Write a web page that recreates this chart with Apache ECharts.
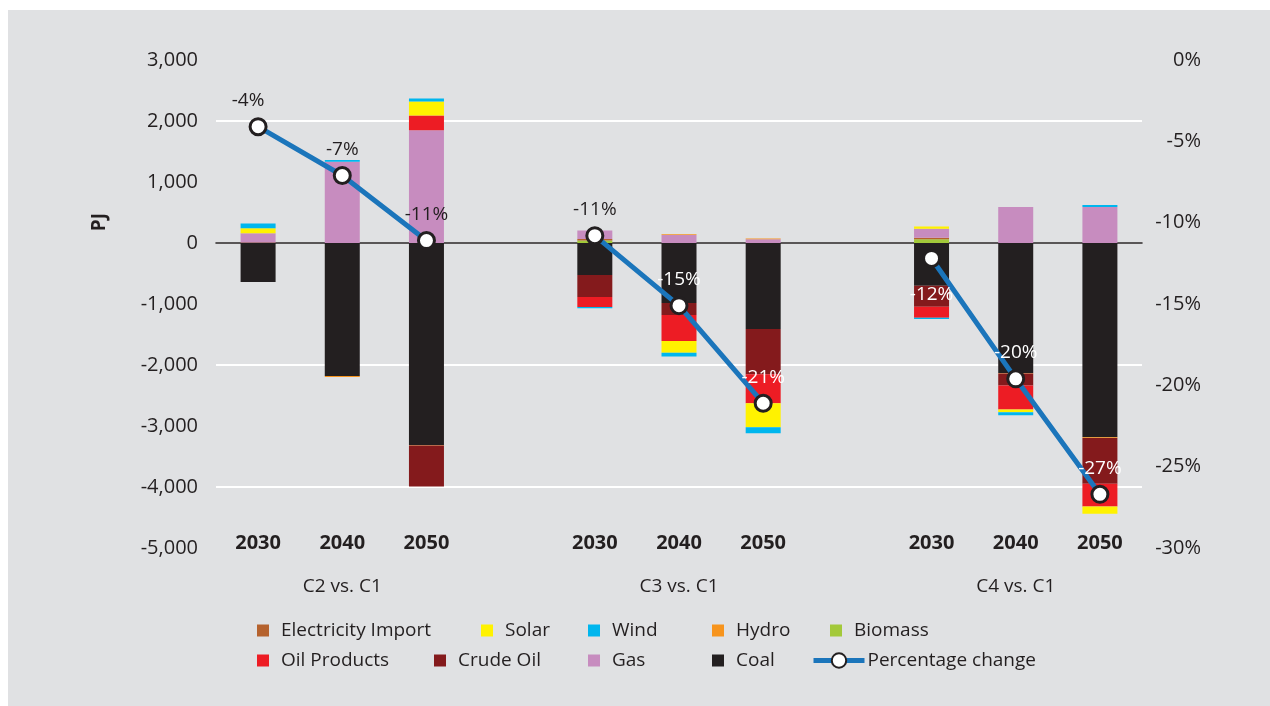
<!DOCTYPE html>
<html>
<head>
<meta charset="utf-8">
<title>Energy supply change vs C1</title>
<script src="https://cdn.jsdelivr.net/npm/echarts@6/dist/echarts.min.js"></script>
<style>
  html, body { margin: 0; padding: 0; background: #fff; }
  #chart { width: 1270px; height: 706px; }
</style>
</head>
<body>
<div id="chart"></div>
<script>
// categories (blank entries = gaps between scenario groups)
const categories = ['2030', '2040', '2050', '', '2030', '2040', '2050', '', '2030', '2040', '2050']
const groupLabels = ['', 'C2 vs. C1', '', '', '', 'C3 vs. C1', '', '', '', 'C4 vs. C1', '']

// PJ change per fuel
const electricityImport = [10, 0, 0, null, 25, 0, 0, null, 25, 0, 0]
const solar = [80, 0, 230, null, 0, -195, -395, null, 35, -45, -120]
const wind = [80, 30, 50, null, -20, -60, -100, null, -20, -50, 35]
const hydro = [0, -15, -10, null, 0, 15, 15, null, 0, -10, -10]
const biomass = [0, 0, 0, null, 40, 0, 0, null, 60, 0, 0]
const oilProducts = [0, 0, 240, null, -165, -425, -475, null, -180, -395, -375]
const crudeOil = [0, 0, -670, null, -360, -195, -740, null, -345, -195, -750]
const gas = [150, 1330, 1850, null, 140, 130, 60, null, 150, 590, 590]
const coal = [-640, -2180, -3310, null, -525, -985, -1410, null, -700, -2130, -3185]

// percentage change (right axis)
const pctChange = [-4.1, -7.1, -11.1, null, -10.8, -15.1, -21.1, null, -12.2, -19.6, -26.7]

const FONT = 'Open Sans'
const TEXT = '#231F20'

const chart = echarts.init(document.getElementById('chart'))

const fuels = [
  { name: 'Biomass', data: biomass, color: '#A3C93A' },
  { name: 'Electricity Import', data: electricityImport, color: '#B5622E' },
  { name: 'Coal', data: coal, color: '#231F20' },
  { name: 'Gas', data: gas, color: '#C78CBF' },
  { name: 'Hydro', data: hydro, color: '#F7941D' },
  { name: 'Crude Oil', data: crudeOil, color: '#841A1C' },
  { name: 'Oil Products', data: oilProducts, color: '#ED1C24' },
  { name: 'Solar', data: solar, color: '#FFF200' },
  { name: 'Wind', data: wind, color: '#00B6EE' }
]

const barSeries = fuels.map(f => ({
  name: f.name,
  type: 'bar',
  stack: 'pj',
  xAxisIndex: 0,
  yAxisIndex: 0,
  barWidth: 35,
  itemStyle: { color: f.color },
  data: f.data
}))

// label tweaks per point: first points sit on grey, the rest on dark bars
const lineData = pctChange.map((v, i) => {
  if (v === null) return null
  const dark = i <= 4
  const item = { value: v, label: { color: dark ? TEXT : '#fff' } }
  if (i === 0) item.label.offset = [-10, 0]
  if (i === 8) { item.label.position = 'bottom'; item.label.distance = 17 }
  return item
})

// legend layout (two rows, table-like)
const legendSpots = [
  ['Electricity Import', 257, 621], ['Solar', 481, 621], ['Wind', 588, 621], ['Hydro', 712, 621], ['Biomass', 830, 621],
  ['Oil Products', 257, 651], ['Crude Oil', 434, 651], ['Gas', 588, 651], ['Coal', 712, 651], ['Percentage change', 811, 651]
]

const legends = legendSpots.map(([name, x, y]) => {
  const isLine = name === 'Percentage change'
  const lg = {
    data: [name],
    left: x,
    top: y,
    padding: 0,
    icon: isLine ? undefined : 'rect',
    itemWidth: isLine ? 51 : 12,
    itemHeight: isLine ? 18 : 12,
    itemGap: 0,
    selectedMode: false,
    textStyle: { fontFamily: FONT, fontSize: 19, color: TEXT, padding: [0, 0, 0, isLine ? -2 : 7] }
  }
  if (isLine) lg.lineStyle = { width: 5, color: '#1B75BB' }
  return lg
})

const option = {
  animation: false,
  backgroundColor: '#fff',
  textStyle: { fontFamily: FONT },
  graphic: [
    {
      type: 'rect', z: -100, silent: true,
      shape: { x: 8, y: 10, width: 1262, height: 696 },
      style: { fill: '#E0E1E3' }
    },
    {
      type: 'text', left: 90, top: 213, rotation: Math.PI / 2,
      style: { text: 'PJ', fontFamily: FONT, fontSize: 19, fontWeight: 'bold', fill: TEXT }
    }
  ],
  legend: legends,
  grid: { left: 216, right: 128, top: 60, bottom: 158 },
  xAxis: [
    {
      type: 'category',
      data: categories,
      axisLine: { show: true, onZero: true, onZeroAxisIndex: 0, lineStyle: { color: '#231F20', width: 1.5 } },
      axisTick: { show: false },
      axisLabel: { show: false },
      splitLine: { show: false }
    },
    {
      type: 'category',
      data: categories,
      position: 'bottom',
      axisLine: { show: false, onZero: false },
      axisTick: { show: false },
      axisLabel: { margin: -15, fontFamily: FONT, fontSize: 20, fontWeight: 'bold', color: TEXT },
      splitLine: { show: false }
    },
    {
      type: 'category',
      data: groupLabels,
      position: 'bottom',
      axisLine: { show: false, onZero: false },
      axisTick: { show: false },
      axisLabel: { margin: 29, interval: 0, fontFamily: FONT, fontSize: 19, color: TEXT },
      splitLine: { show: false }
    }
  ],
  yAxis: [
    {
      type: 'value',
      min: -5000,
      max: 3000,
      interval: 1000,
      axisLine: { show: false },
      axisTick: { show: false },
      axisLabel: {
        margin: 18,
        fontFamily: FONT, fontSize: 20, color: TEXT,
        formatter: v => v.toLocaleString('en-US')
      },
      splitLine: { show: true, lineStyle: { color: ['transparent', '#ffffff'], width: 2 } }
    },
    {
      type: 'value',
      min: -30,
      max: 0,
      interval: 5,
      position: 'right',
      axisLine: { show: false },
      axisTick: { show: false },
      axisLabel: {
        margin: 59, align: 'right',
        fontFamily: FONT, fontSize: 20, color: TEXT,
        formatter: v => v + '%'
      },
      splitLine: { show: false }
    }
  ],
  series: [
    ...barSeries,
    {
      name: 'Percentage change',
      type: 'line',
      xAxisIndex: 0,
      yAxisIndex: 1,
      z: 5,
      connectNulls: false,
      symbol: 'circle',
      symbolSize: 16,
      lineStyle: { color: '#1B75BB', width: 5 },
      itemStyle: { color: '#ffffff', borderColor: '#231F20', borderWidth: 3 },
      label: {
        show: true,
        position: 'top',
        distance: 7,
        fontFamily: FONT,
        fontSize: 19,
        formatter: p => Math.round(p.value) + '%'
      },
      data: lineData
    }
  ]
}

chart.setOption(option)
window.addEventListener('resize', () => chart.resize())
</script>
</body>
</html>
